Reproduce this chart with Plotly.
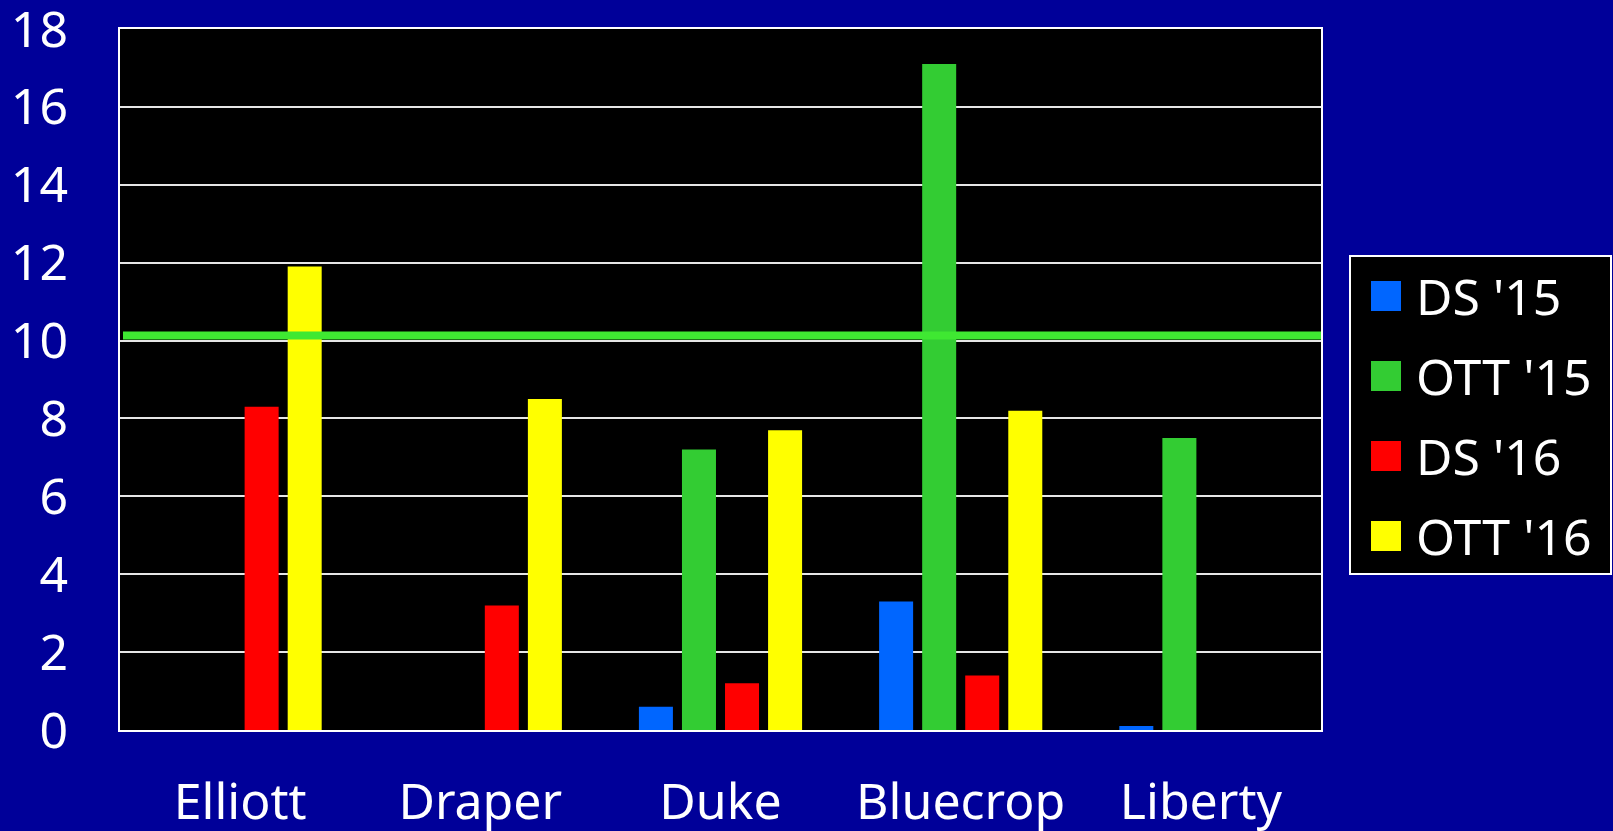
import plotly.graph_objects as go

categories = ["Elliott", "Draper", "Duke", "Bluecrop", "Liberty"]
series_names = ["DS '15", "OTT '15", "DS '16", "OTT '16"]
ds15 = [0, 0, 0.6, 3.3, 0.1]
ott15 = [0, 0, 7.2, 17.1, 7.5]
ds16 = [8.3, 3.2, 1.2, 1.4, 0]
ott16 = [11.9, 8.5, 7.7, 8.2, 0]
threshold = 10.13
y_ticks = [0, 2, 4, 6, 8, 10, 12, 14, 16, 18]

colors = ["#0066ff", "#33cc33", "#ff0000", "#ffff00"]
BG = "#000099"
FONT = "Noto Sans"

W, H = 1613, 831
ML, MR, MT, MB = 120, 292, 29, 101
PW = W - ML - MR
PH = H - MT - MB


def px_x(p):
    return (p - ML) / PW


def px_y(p):
    return (H - MB - p) / PH


fig = go.Figure()
for name, vals, col in zip(series_names, [ds15, ott15, ds16, ott16], colors):
    fig.add_trace(go.Bar(x=categories, y=vals, name=name, marker_color=col,
                         marker_line_width=0, showlegend=False))

# threshold line
fig.add_shape(type="line", xref="paper", yref="y", x0=px_x(123), x1=1.0,
              y0=threshold, y1=threshold, line=dict(color="#3fe832", width=8))

# manual legend
fig.add_shape(type="rect", xref="paper", yref="paper",
              x0=px_x(1350), x1=px_x(1611), y0=px_y(256), y1=px_y(574),
              fillcolor="black", line=dict(color="white", width=2), layer="above")
for i, (name, col) in enumerate(zip(series_names, colors)):
    cy = 296 + 80 * i
    fig.add_shape(type="rect", xref="paper", yref="paper",
                  x0=px_x(1371), x1=px_x(1401), y0=px_y(cy - 15), y1=px_y(cy + 15),
                  fillcolor=col, line=dict(width=0), layer="above")
    fig.add_annotation(xref="paper", yref="paper", x=px_x(1414), y=px_y(cy),
                       text=name, showarrow=False, xanchor="left", yanchor="middle",
                       font=dict(family=FONT, size=50, color="white"))

fig.update_layout(
    width=W, height=H,
    margin=dict(l=ML, r=MR, t=MT, b=MB, autoexpand=False),
    paper_bgcolor=BG, plot_bgcolor="black",
    barmode="group", bargap=0.283, bargroupgap=0.21,
    font=dict(family=FONT, size=50, color="white"),
    showlegend=False,
)
fig.update_yaxes(range=[0, 18], tickvals=y_ticks, showgrid=True, gridcolor="#e6e6e6",
                 gridwidth=2, zeroline=False, showline=True, linecolor="white", linewidth=2,
                 mirror=True, ticks="outside", ticklen=40, tickcolor=BG,
                 ticklabeloverflow="allow",
                 tickfont=dict(family=FONT, size=50, color="white"))
fig.update_xaxes(showline=True, linecolor="white", linewidth=2, mirror=True,
                 ticks="outside", ticklen=27, tickcolor=BG, showgrid=False,
                 ticklabeloverflow="allow",
                 tickfont=dict(family=FONT, size=50, color="white"))

fig.write_html("out.html", config={"displayModeBar": False},
               post_script="document.body.style.margin='0';document.body.style.overflow='hidden';")
